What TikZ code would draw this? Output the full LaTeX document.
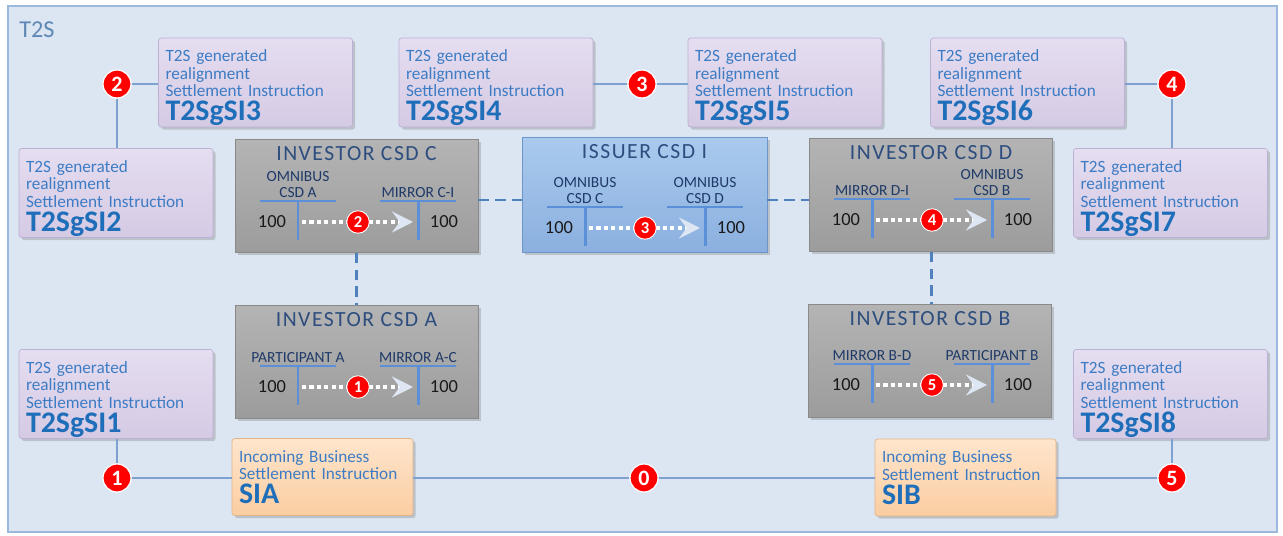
\documentclass[tikz,border=0pt]{standalone}
\usepackage{fontspec}
\setmainfont{Carlito}
\usetikzlibrary{positioning, arrows.meta, shadows}
\definecolor{tsback}{HTML}{DCE6F2}
\definecolor{tsframe}{HTML}{9CB8DC}
\definecolor{sitop}{HTML}{E5DDF0}
\definecolor{sibot}{HTML}{D5CAE4}
\definecolor{siline}{HTML}{BDB0D5}
\definecolor{ibtop}{HTML}{FEE5CC}
\definecolor{ibbot}{HTML}{FBCDA2}
\definecolor{ibline}{HTML}{E2B58A}
\definecolor{csdtop}{HTML}{B4B4B4}
\definecolor{csdbot}{HTML}{9C9C9C}
\definecolor{csdline}{HTML}{8A8A8A}
\definecolor{istop}{HTML}{AACAEE}
\definecolor{isbot}{HTML}{8BB0DF}
\definecolor{isline}{HTML}{6D95C7}
\definecolor{tsblue}{HTML}{4F81BD}
\definecolor{tbarblue}{HTML}{5B8FD8}
\definecolor{txtlight}{HTML}{3D7CC4}
\definecolor{txtbold}{HTML}{1F6EB9}
\definecolor{tsnavy}{HTML}{1F3A68}
\definecolor{titleblue}{HTML}{2C4D7E}
\definecolor{numred}{HTML}{FF0000}
\definecolor{lnk}{HTML}{7EA2CF}
\definecolor{t2sblue}{HTML}{5E87B5}
\definecolor{tsarrow}{HTML}{DDE6F2}
% realignment instruction text: three small lines, then the name
\newcommand{\sigen}[1]{%
  T2S generated\\realignment\\Settlement Instruction\par
  {\fontsize{17}{13.6}\selectfont\bfseries\leavevmode\color{txtbold}#1\par}\vspace{-6pt}}
\newcommand{\ibsi}[1]{%
  Incoming Business\\Settlement Instruction\par
  {\fontsize{17}{13.6}\selectfont\bfseries\leavevmode\color{txtbold}#1\par}}
% two T-accounts and the transfer between them
\newcommand{\csdbody}[6]{%
  \draw[tbar] ({#2-98},#3) -- ({#2-22},#3);
  \draw[tbar] ({#2-60},#3) -- ({#2-60},{#3+39});
  \draw[tbar] ({#2+22},#3) -- ({#2+98},#3);
  \draw[tbar] ({#2+60},#3) -- ({#2+60},{#3+39});
  \node[acct] (#1-lab) at ({#2-60},{#3-2}) {#4};
  \node[acct] (#1-rab) at ({#2+60},{#3-2}) {#5};
  \node[amt] (#1-lamt) at ({#2-86},{#3+21}) {100};
  \node[amt] (#1-ramt) at ({#2+86},{#3+21}) {100};
  \draw[move] ({#2-56},{#3+21}) -- ({#2+55},{#3+21});
  \node[snum] (#1-step) at (#2,{#3+21}) {#6};}

\begin{document}
\begin{tikzpicture}[
    x=0.02cm, y=-0.02cm,
    font=\fontsize{9.8}{10}\selectfont,
    % ---- shared styles ---------------------------------------------------
    frame/.style={draw=tsframe, fill=tsback, line width=1.2pt},
    shade/.style={drop shadow={opacity=0.35, shadow xshift=1.5pt,
                  shadow yshift=-1.5pt}},
    sibox/.style={shade, rectangle, draw=siline, top color=sitop,
                  bottom color=sibot, rounded corners=1.5pt,
                  minimum width=3.88cm, minimum height=1.78cm,
                  text width=3.6cm, inner xsep=0.14cm, align=left,
                  text=txtlight},
    inbox/.style={shade, rectangle, draw=ibline, top color=ibtop,
                  bottom color=ibbot, rounded corners=1.5pt,
                  minimum width=3.62cm, minimum height=1.54cm,
                  text width=3.34cm, inner xsep=0.14cm, align=left,
                  text=txtlight},
    csd/.style={shade, rectangle, draw=csdline, top color=csdtop,
                bottom color=csdbot, minimum width=4.86cm,
                minimum height=2.26cm},
    issuer/.style={csd, draw=isline, top color=istop, bottom color=isbot,
                   minimum width=4.9cm, minimum height=2.3cm},
    ttl/.style={font=\fontsize{12.3}{13}\selectfont\addfontfeature{LetterSpace=7},
                text=titleblue, inner sep=0pt},
    acct/.style={font=\fontsize{8.8}{9}\selectfont, text=tsnavy,
                 align=center, anchor=south, inner sep=0.5pt},
    amt/.style={font=\fontsize{10.5}{12}\selectfont, text=black!90,
                inner sep=0pt},
    tbar/.style={draw=tbarblue, line width=1.7pt},
    move/.style={draw=white, line width=2.2pt, dash pattern=on 2.4pt off 1.8pt,
                 -{Stealth[length=12pt, width=12pt, inset=4.5pt, color=tsarrow]}},
    num/.style={circle, fill=numred, draw=white, line width=0.7pt,
                minimum size=0.56cm, inner sep=0pt, text=white,
                font=\fontsize{12.5}{12.5}\selectfont\bfseries},
    snum/.style={num, minimum size=0.45cm, line width=0.5pt,
                 font=\fontsize{9.5}{9.5}\selectfont\bfseries},
    link/.style={draw=lnk, line width=0.8pt},
    chain/.style={draw=tsblue, line width=1.7pt, dash pattern=on 6pt off 3.5pt},
  ]
\useasboundingbox (0,0) rectangle (1283,536);
\fill[white] (0,0) rectangle (1283,536);

% =========================================================================
% T2S frame
% =========================================================================
\draw[frame] (8,6) rectangle (1277,532);
\node[anchor=west, text=t2sblue, font=\fontsize{13.8}{14}\selectfont,
      inner sep=0pt] (t2s) at (19,30) {T2S};

% =========================================================================
% CSDs and their accounts
% =========================================================================
\node[csd] (csdC) at (356.5,196) {};
\node[issuer] (csdI) at (644.5,194.5) {};
\node[csd] (csdD) at (931,195) {};
\node[csd] (csdA) at (356.5,361.5) {};
\node[csd] (csdB) at (930,360.5) {};

\node[ttl, anchor=north, below=4pt of csdC.north] (csdC-t) {INVESTOR CSD C};
\node[ttl, anchor=north, below=4pt of csdI.north] (csdI-t) {ISSUER CSD I};
\node[ttl, anchor=north, below=4pt of csdD.north] (csdD-t) {INVESTOR CSD D};
\node[ttl, anchor=north, below=4pt of csdA.north] (csdA-t) {INVESTOR CSD A};
\node[ttl, anchor=north, below=4pt of csdB.north] (csdB-t) {INVESTOR CSD B};

\csdbody{c}{358}{201}{OMNIBUS\\CSD A}{MIRROR C-I}{2}
\csdbody{i}{645}{207}{OMNIBUS\\CSD C}{OMNIBUS\\CSD D}{3}
\csdbody{d}{932}{199}{MIRROR D-I}{OMNIBUS\\CSD B}{4}
\csdbody{a}{358}{366}{PARTICIPANT A}{MIRROR A-C}{1}
\csdbody{b}{932}{364}{MIRROR B-D}{PARTICIPANT B}{5}

% the CSD chain
\draw[chain] (csdC.east |- 0,200) -- (csdI.west |- 0,200);
\draw[chain] (csdI.east |- 0,200) -- (csdD.west |- 0,200);
\draw[chain] (csdC.south) -- (csdA.north);
\draw[chain] (csdD.south) -- (csdD.south |- csdB.north);

% =========================================================================
% settlement instructions
% =========================================================================
\node[sibox] (si3) at (255.5,82.5) {\sigen{T2SgSI3}};
\node[sibox] (si4) at (496,82.5) {\sigen{T2SgSI4}};
\node[sibox] (si5) at (785,82.5) {\sigen{T2SgSI5}};
\node[sibox] (si6) at (1027.5,82.5) {\sigen{T2SgSI6}};
\node[sibox] (si2) at (116,193) {\sigen{T2SgSI2}};
\node[sibox] (si7) at (1170.5,193) {\sigen{T2SgSI7}};
\node[sibox] (si1) at (116,394) {\sigen{T2SgSI1}};
\node[sibox] (si8) at (1170.5,394) {\sigen{T2SgSI8}};

\node[inbox] (sia) at (322.5,477) {\ibsi{SIA}};
\node[inbox] (sib) at (965.5,477.5) {\ibsi{SIB}};

% steps
\node[num] (n0) at (644,478) {0};
\node[num] (n1) at (117,478) {1};
\node[num] (n2) at (117,84) {2};
\node[num] (n3) at (642,84) {3};
\node[num] (n4) at (1172,84) {4};
\node[num] (n5) at (1172,478) {5};

\draw[link] (n0) -- (n0 -| sia.east);
\draw[link] (n0) -- (n0 -| sib.west);
\draw[link] (n1) -- (n1 |- si1.south);
\draw[link] (n1) -- (n1 -| sia.west);
\draw[link] (n2) -- (n2 |- si2.north);
\draw[link] (n2) -- (n2 -| si3.west);
\draw[link] (n3) -- (n3 -| si4.east);
\draw[link] (n3) -- (n3 -| si5.west);
\draw[link] (n4) -- (n4 -| si6.east);
\draw[link] (n4) -- (n4 |- si7.north);
\draw[link] (n5) -- (n5 -| sib.east);
\draw[link] (n5) -- (n5 |- si8.south);

\end{tikzpicture}
\end{document}
